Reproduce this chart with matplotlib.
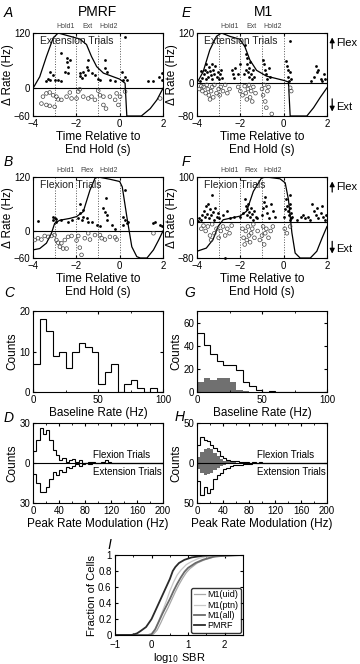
import numpy as np
import matplotlib
matplotlib.use('Agg')
import matplotlib.pyplot as plt
from matplotlib.ticker import AutoMinorLocator

plt.rcParams['font.family'] = ['Liberation Sans', 'DejaVu Sans']
plt.rcParams['axes.linewidth'] = 0.8
plt.rcParams['xtick.direction'] = 'in'
plt.rcParams['ytick.direction'] = 'in'
plt.rcParams['xtick.major.size'] = 2
plt.rcParams['ytick.major.size'] = 2
plt.rcParams['xtick.labelsize'] = 7
plt.rcParams['ytick.labelsize'] = 7

# ---------------- data ----------------
# position traces (scaled) for each trial panel
curveA_t = [-4, -3.69, -3.38, -3.07, -2.84, -2.38, -1.84, -1.53, -1.3, -1.06, -0.75, -0.29, 0, 0.25, 0.33, 1.0, 1.41, 1.72, 2]
curveA_v = [0, 25, 69, 109, 120, 114, 107, 95, 69, 47, 33, 25, 20, 11, -60, -60, -44, -25, 0]
curveE_t = [-4, -3.72, -3.41, -3.1, -2.87, -2.49, -2.02, -1.79, -1.56, -1.25, -0.79, -0.32, -0.01, 0.22, 0.3, 1.07, 1.38, 1.69, 2]
curveE_v = [0, 26, 79, 112, 120, 112, 105, 87, 55, 30, 16, 10, 6, 2, -80, -80, -60, -35, -12]
curveB_t = [-4, -3.69, -3.38, -3.15, -3.0, -2.76, -2.3, -1.99, -1.68, -1.37, -1.14, -0.99, -0.45, 0, 0.12, 0.33, 0.56, 0.79, 0.95, 1.26, 1.56, 1.8, 2]
curveB_v = [-42, -39, -27, -5, 17, 24, 28, 32, 43, 91, 117, 120, 115, 110, 98, 32, -35, -57, -60, -60, -42, -20, 0]
curveF_t = [-4, -3.57, -3.26, -3.03, -2.79, -2.02, -1.71, -1.4, -1.02, -0.79, -0.17, 0.07, 0.22, 0.38, 0.53, 0.76, 1.23, 1.53, 1.77, 2]
curveF_v = [-65, -58, -39, -10, 5, 13, 24, 68, 98, 100, 96, 87, 50, -24, -69, -80, -80, -65, -36, -10]

# rate changes of single cells: filled = increase, open = decrease
upA_t = [-2.69, -2.45, -2.45, -2.53, -3.23, -3.07, -3.3, -3.38, -3.2, -3.0, -2.84, -2.69, -2.38, -1.84, -1.84, -1.76,
         -1.68, -1.6, -1.53, -1.45, -1.45, -1.3, -1.14, -0.99, -0.9, -0.68, -0.68, -0.6, -0.45, -0.21, 0.1, 0.17,
         0.25, 0.25, 0.33, 1.33, 1.56, 1.8, 1.95, 1.95, -2.3, -2.38]
upA_v = [76, 65, 58, 36, 36, 29, 20, 15, 18, 18, 18, 15, 34, 33, 27, 22, 36, 29, 47, 62, 40, 34, 29, 20, 18, 62, 44,
         36, 18, 15, 36, 18, 25, 111, 18, 15, 15, 25, 33, 18, 62, 47]
dnA_t = [-3.61, -3.38, -3.23, -3.0, -3.54, -3.38, -3.23, -3.07, -2.92, -2.84, -2.69, -2.45, -2.3, -2.22, -1.99, -1.91,
         -1.84, -1.68, -1.45, -1.3, -1.14, -0.99, -0.91, -0.75, -0.75, -0.63, -0.45, -0.21, -0.14, -0.06, 0.02, 0.25, 1.87]
dnA_v = [-33, -36, -38, -40, -18, -11, -9, -15, -18, -24, -25, -18, -9, -22, -22, -7, -2, -18, -22, -18, -25, -5, -15,
         -18, -36, -44, -18, -25, -11, -36, -18, -7, -22]

upE_t = [-3.85, -3.75, -3.7, -3.65, -3.6, -3.55, -3.5, -3.45, -3.4, -3.35, -3.3, -3.25, -3.2, -3.15, -3.1, -3.05, -3.0,
         -2.95, -2.9, -3.8, -3.6, -3.3, -2.85, -2.4, -2.35, -2.3, -2.25, -2.0, -2.1, -1.8, -1.75, -1.7, -1.7, -1.65,
         -1.6, -1.6, -1.55, -1.5, -1.45, -1.4, -1.75, -1.35, -1.85, -0.95, -0.9, -0.85, -0.8, -0.75, -0.7, -0.65,
         0.1, 0.15, 0.2, 0.2, 0.25, 0.3, 0.3, 0.35, 1.25, 1.4, 1.5, 1.55, 1.6, 1.7, 1.75, 1.85, 1.9]
upE_v = [5, 12, 20, 32, 45, 25, 15, 38, 28, 18, 8, 30, 22, 40, 15, 25, 10, 20, 30, 28, 8, 45, 12, 30, 20, 12, 35, 45,
         20, 90, 70, 60, 45, 25, 15, 35, 50, 20, 10, 30, 30, 15, 20, 55, 45, 30, 20, 10, 35, 15, 52, 40, 30, 15, 5,
         100, 25, 10, 5, 15, 40, 25, 30, 10, 5, 20, 8]
dnE_t = [-3.9, -3.8, -3.75, -3.7, -3.6, -3.55, -3.5, -3.45, -3.4, -3.35, -3.3, -3.25, -3.2, -3.1, -3.0, -2.95, -2.9,
         -2.8, -2.7, -2.6, -2.5, -2.1, -2.0, -1.9, -1.8, -1.75, -1.7, -1.65, -1.6, -1.55, -1.5, -1.45, -1.4, -1.3,
         -1.0, -0.95, -0.9, -0.85, -0.8, -0.75, -0.7, -0.55, 0.3, 0.35]
dnE_v = [-15, -8, -20, -10, -25, -5, -15, -30, -40, -20, -10, -35, -5, -25, -15, -30, -10, -20, -5, -25, -15, -10,
         -20, -30, -8, -25, -40, -15, -5, -35, -20, -45, -10, -25, -15, -30, -5, -45, -60, -20, -10, -75, -12, -20]

upB_t = [-3.77, -3.07, -3.0, -2.92, -3.07, -2.92, -2.69, -2.38, -2.22, -1.84, -1.84, -1.91, -1.76, -1.68, -1.53,
         -1.45, -1.3, -1.68, -1.06, -0.9, -0.75, -0.68, -0.6, -0.63, -0.6, -0.37, -0.21, 0.25, 0.17, 0.25, 0.33,
         0.4, 0.17, 1.64, 1.87, 1.95, 1.56]
upB_v = [22, 24, 28, 26, 32, 21, 24, 21, 24, 61, 39, 28, 24, 32, 28, 21, 21, 47, 13, 10, 50, 43, 36, 73, 24, 13, 4,
         91, 32, 24, 17, 21, 13, 21, 13, 10, 17]
dnB_t = [-3.92, -3.77, -3.61, -3.46, -3.3, -3.15, -3.0, -2.92, -2.84, -2.76, -2.61, -2.53, -2.69, -2.45, -2.38, -2.22,
         -1.99, -1.91, -1.84, -1.76, -1.61, -1.45, -1.37, -1.14, -0.91, -0.83, -0.68, -0.45, -0.21, -0.14, 1.56]
dnB_v = [-20, -16, -19, -11, -13, -11, -9, -20, -26, -35, -39, -20, -27, -39, -13, -11, -21, -11, -37, -53, -16, -5,
         -19, -9, -9, -16, -19, -13, -14, -19, -5]

upF_t = [-3.95, -3.9, -3.8, -3.75, -3.7, -3.65, -3.6, -3.55, -3.5, -3.45, -3.4, -3.35, -3.3, -3.25, -3.2, -3.15, -3.1,
         -3.05, -3.0, -2.8, -2.6, -2.5, -2.3, -2.0, -1.9, -1.8, -1.75, -1.7, -1.7, -1.65, -1.6, -1.55, -1.5, -1.45,
         -1.4, -1.35, -1.3, -1.25, -1.0, -0.95, -0.9, -0.85, -0.8, -0.75, -0.7, -0.6, -0.5, -0.4, 0.0, 0.1, 0.15,
         0.2, 0.25, 0.3, 0.3, 0.3, 0.3, 0.35, 0.35, 0.4, 0.05, 0.6, 0.8, 1.0, 1.1, 1.3, 1.4, 1.5, 1.55, 1.6, 1.7,
         1.75, 1.8, 1.9, 1.95, 0.9, 1.2, -2.72]
upF_v = [3, 8, 5, 15, 25, 10, 35, 18, 40, 8, 28, 15, 60, 22, 5, 30, 12, 20, 8, 15, 25, 8, 12, 10, 20, 50, 35, 28, 15,
         40, 22, 10, 30, 18, 5, 25, 12, 8, 15, 30, 45, 55, 35, 20, 8, 40, 25, 10, 10, 50, 35, 25, 15, 5, 60, 40, 30,
         20, 8, 12, 28, 5, 10, 8, 12, 40, 25, 15, 30, 8, 20, 35, 12, 5, 15, 15, 5, -80]
dnF_t = [-3.8, -3.7, -3.6, -3.5, -3.4, -3.3, -3.2, -3.1, -3.0, -2.9, -2.8, -2.7, -2.6, -2.5, -2.4, -3.35, -1.9,
         -1.85, -1.8, -1.75, -1.7, -1.65, -1.6, -1.55, -1.5, -1.45, -1.4, -1.35, -1.2, -1.1, -1.0, -0.95, -0.9,
         -0.85, -0.8, -0.7, -0.6, -0.5, 0.05, 0.15, 0.3]
dnF_v = [-15, -8, -20, -10, -30, -5, -25, -15, -35, -20, -10, -30, -15, -25, -8, -40, -15, -35, -50, -20, -40, -10,
         -30, -45, -25, -15, -5, -35, -20, -40, -30, -10, -50, -25, -15, -35, -20, -10, -15, -25, -10]

# baseline rate histograms (5 Hz bins)
base_edges = np.arange(0, 105, 5)
base_pmrf = [7, 18, 15, 9, 10, 6, 10, 12, 11, 10, 2, 5, 7, 0, 2, 3, 1, 0, 1, 0]
base_m1 = [51, 41, 33, 27, 23, 23, 19, 9, 5, 2, 0, 1, 0, 0, 0, 0, 0, 0, 0, 0]
base_m1_sub = [9, 12, 10, 12, 12, 9, 2, 1, 0, 0, 0, 1, 0, 0, 0, 0, 0, 0, 0, 0]

# peak rate modulation histograms (5 Hz bins, 0-200 Hz)
mod_edges = np.arange(0, 205, 5)
pmrf_flex = [9, 17, 26, 22, 25, 17, 10, 6, 2, 4, 1, 2, 3, 1, 2, 0, 0, 1, 1, 0, 0, 1, 2, 1] + [0] * 16
pmrf_ext = [8, 15, 22, 22, 18, 12, 7, 9, 5, 7, 3, 4, 2, 1, 2, 1, 0, 1, 0, 0] + [0] * 20
m1_flex = [23, 32, 29, 27, 23, 19, 15, 9, 6, 4, 3, 2, 2, 1, 1, 1, 0, 1, 0, 1] + [0] * 20
m1_ext = [22, 40, 30, 38, 32, 20, 15, 12, 8, 6, 4, 3, 2, 2, 1, 1, 1, 0, 0, 0] + [0] * 20
m1_flex_sub = [8, 14, 17, 19, 17, 13, 9, 5, 3, 2, 1, 1] + [0] * 28
m1_ext_sub = [8, 12, 15, 14, 12, 9, 6, 4, 2, 1, 1, 0] + [0] * 28

# cumulative distributions of log10 SBR
cdf_labels = ['M1(uid)', 'M1(ptn)', 'M1(all)', 'PMRF']
cdf_colors = ['#a8a8a8', '#c8c8c8', '#6a6a6a', '#2a2a2a']
cdf_x = [
    [-1, -0.05, 0.05, 0.15, 0.25, 0.35, 0.45, 0.55, 0.65, 0.75, 0.85, 0.95, 1.05, 1.25, 1.45, 1.75, 2.05, 2.5],
    [-1, -0.1, 0.0, 0.1, 0.2, 0.3, 0.4, 0.5, 0.6, 0.7, 0.8, 0.95, 1.1, 1.3, 1.5, 1.8, 2.1, 2.5],
    [-1, -0.1, 0.0, 0.1, 0.2, 0.3, 0.4, 0.5, 0.6, 0.7, 0.8, 0.9, 1.0, 1.2, 1.4, 1.7, 2.0, 2.5],
    [-1, -0.55, -0.4, -0.3, -0.15, 0.0, 0.1, 0.2, 0.3, 0.4, 0.5, 0.58, 0.65, 0.75, 0.9, 1.1, 1.4, 1.7, 2.5],
]
cdf_y = [
    [0, 0, 0.01, 0.06, 0.15, 0.25, 0.34, 0.44, 0.54, 0.63, 0.71, 0.78, 0.83, 0.9, 0.94, 0.98, 0.99, 1],
    [0, 0, 0.01, 0.08, 0.18, 0.3, 0.42, 0.55, 0.66, 0.75, 0.81, 0.88, 0.92, 0.96, 0.98, 0.99, 1, 1],
    [0, 0, 0.01, 0.07, 0.17, 0.27, 0.36, 0.45, 0.55, 0.64, 0.72, 0.79, 0.84, 0.9, 0.94, 0.98, 0.99, 1],
    [0, 0, 0.02, 0.05, 0.1, 0.2, 0.3, 0.4, 0.5, 0.6, 0.7, 0.8, 0.85, 0.9, 0.94, 0.97, 0.99, 1, 1],
]

# ---------------- figure ----------------
W, H = 360, 664
fig = plt.figure(figsize=(3.6, 6.64), dpi=100)


def add_ax(l, top, w, h):
    return fig.add_axes([l / W, 1 - (top + h) / H, w / W, h / H])


def trial_panel(ax, ct, cv, ut, uv, dt, dv, ylim, yticks, title, mid):
    ax.plot(ct, cv, color='k', lw=0.9, zorder=3)
    ax.scatter(ut, uv, s=4, color='k', lw=0, zorder=4, clip_on=False)
    ax.scatter(dt, dv, s=7, facecolors='none', edgecolors='#444444', lw=0.5, zorder=4)
    for xv in [-3, -2, -1, 0]:
        ax.axvline(xv, color='#555555', ls=':', lw=0.7)
    ax.axhline(0, color='k', lw=0.8)
    ax.set_xlim(-4, 2)
    ax.set_ylim(*ylim)
    ax.set_xticks([-4, -2, 0, 2])
    ax.set_yticks(yticks)
    ax.tick_params(top=True, right=True)
    ax.tick_params(axis='x', pad=2.5)
    ax.tick_params(axis='y', pad=2)
    ax.text(0.05, 0.9, title, transform=ax.transAxes, fontsize=7.5, va='center', color='#222222')
    trans = ax.get_xaxis_transform()
    for xv, lab in zip([-2.5, -1.5, -0.5], ['Hold1', mid, 'Hold2']):
        ax.text(xv, 1.04, lab, transform=trans, fontsize=5, ha='center', va='bottom', color='#444444')
    ax.set_xlabel('Time Relative to\nEnd Hold (s)', fontsize=8.5, labelpad=1, linespacing=1.1)
    ax.set_ylabel('Δ Rate (Hz)', fontsize=8.5, labelpad=0)


def flex_ext_arrows(ax):
    ax.annotate('', xy=(1.04, 0.98), xytext=(1.04, 0.78), xycoords='axes fraction',
                arrowprops=dict(arrowstyle='-|>', color='k', lw=0.9, mutation_scale=7))
    ax.text(1.07, 0.88, 'Flex', transform=ax.transAxes, fontsize=8, va='center')
    ax.annotate('', xy=(1.04, 0.02), xytext=(1.04, 0.24), xycoords='axes fraction',
                arrowprops=dict(arrowstyle='-|>', color='k', lw=0.9, mutation_scale=7))
    ax.text(1.07, 0.11, 'Ext', transform=ax.transAxes, fontsize=8, va='center')


axA = add_ax(33, 33, 130, 83)
trial_panel(axA, curveA_t, curveA_v, upA_t, upA_v, dnA_t, dnA_v, (-60, 120), [-60, 0, 120],
            'Extension Trials', 'Ext')
axE = add_ax(197, 33, 130, 83)
trial_panel(axE, curveE_t, curveE_v, upE_t, upE_v, dnE_t, dnE_v, (-80, 120), [-80, 0, 120],
            'Extension Trials', 'Ext')
flex_ext_arrows(axE)
axB = add_ax(33, 177, 130, 81)
trial_panel(axB, curveB_t, curveB_v, upB_t, upB_v, dnB_t, dnB_v, (-60, 120), [-60, 0, 120],
            'Flexion Trials', 'Flex')
axF = add_ax(197, 177, 130, 81)
trial_panel(axF, curveF_t, curveF_v, upF_t, upF_v, dnF_t, dnF_v, (-80, 100), [-80, 0, 100],
            'Flexion Trials', 'Flex')
flex_ext_arrows(axF)


def hist_style(ax):
    ax.tick_params(top=True, right=True)
    ax.tick_params(axis='x', pad=2.5)
    ax.tick_params(axis='y', pad=2)
    ax.tick_params(which='minor', top=True, right=True, length=1.2)
    ax.xaxis.set_minor_locator(AutoMinorLocator(2))


axC = add_ax(33, 311, 130, 81)
axC.stairs(base_pmrf, base_edges, color='k', lw=0.8, baseline=0)
axC.set_xlim(0, 100)
axC.set_ylim(0, 20)
axC.set_xticks([0, 50, 100])
axC.set_yticks([0, 10, 20])
hist_style(axC)
axC.set_xlabel('Baseline Rate (Hz)', fontsize=8.5, labelpad=1)
axC.set_ylabel('Counts', fontsize=8.5, labelpad=1)

axG = add_ax(197, 311, 130, 81)
axG.stairs(base_m1_sub, base_edges, fill=True, color='#707070', baseline=0)
axG.stairs(base_m1, base_edges, color='k', lw=0.8, baseline=0)
axG.set_xlim(0, 100)
axG.set_ylim(0, 70)
axG.set_xticks([0, 50, 100])
axG.set_yticks([0, 20, 40, 60])
hist_style(axG)
axG.set_xlabel('Baseline Rate (Hz)', fontsize=8.5, labelpad=1)
axG.set_ylabel('Counts', fontsize=8.5, labelpad=1)


def mod_panel(ax, flex, ext, lim, flex_sub=None, ext_sub=None):
    if flex_sub is not None:
        ax.stairs(flex_sub, mod_edges, fill=True, color='#707070', baseline=0)
        ax.stairs(-np.array(ext_sub), mod_edges, fill=True, color='#707070', baseline=0)
    ax.stairs(flex, mod_edges, color='k', lw=0.8, baseline=0)
    ax.stairs(-np.array(ext), mod_edges, color='k', lw=0.8, baseline=0)
    ax.axhline(0, color='k', lw=0.8)
    ax.set_xlim(0, 200)
    ax.set_ylim(-lim, lim)
    ax.set_xticks([0, 40, 80, 120, 160, 200])
    ax.set_yticks([-lim, 0, lim])
    ax.set_yticklabels([str(lim), '0', str(lim)])
    hist_style(ax)
    ax.text(0.46, 0.6, 'Flexion Trials', transform=ax.transAxes, fontsize=7, va='center')
    ax.text(0.46, 0.39, 'Extension Trials', transform=ax.transAxes, fontsize=7, va='center')
    ax.set_xlabel('Peak Rate Modulation (Hz)', fontsize=8.5, labelpad=1)
    ax.set_ylabel('Counts', fontsize=8.5, labelpad=1)


axD = add_ax(33, 423, 130, 80)
mod_panel(axD, pmrf_flex, pmrf_ext, 30)
axH = add_ax(197, 423, 130, 80)
mod_panel(axH, m1_flex, m1_ext, 50, m1_flex_sub, m1_ext_sub)

axI = add_ax(115, 555, 128, 80)
for xs, ys, lab, col in zip(cdf_x, cdf_y, cdf_labels, cdf_colors):
    lw = 1.3 if lab in ('M1(all)', 'PMRF') else 0.9
    axI.plot(xs, ys, color=col, lw=lw, label=lab)
axI.set_xlim(-1, 2.5)
axI.set_ylim(0, 1)
axI.set_xticks([-1, 0, 1, 2])
axI.set_yticks([0, 0.2, 0.4, 0.6, 0.8, 1])
axI.set_yticklabels(['0', '0.2', '0.4', '0.6', '0.8', '1'])
hist_style(axI)
axI.tick_params(axis='x', pad=3.5)
axI.tick_params(axis='y', pad=2.5)
axI.set_xlabel('log$_{10}$ SBR', fontsize=8, labelpad=0.5)
axI.set_ylabel('Fraction of Cells', fontsize=8, labelpad=1)
axI.legend(loc='lower right', fontsize=6.5, frameon=True, fancybox=True, edgecolor='k',
           handlelength=1.2, handletextpad=0.3, borderpad=0.3, labelspacing=0.15, borderaxespad=0.2)

# titles and panel letters
fig.text(98 / W, 1 - 12 / H, 'PMRF', fontsize=10, ha='center', va='center')
fig.text(263 / W, 1 - 12 / H, 'M1', fontsize=10, ha='center', va='center')
letters = [('A', 4, 13), ('E', 182, 13), ('B', 4, 162), ('F', 182, 162), ('C', 4, 293), ('G', 184, 293),
           ('D', 4, 418), ('H', 175, 417), ('I', 107, 545)]
for lab, px, py in letters:
    fig.text(px / W, 1 - py / H, lab, fontsize=10, style='italic', ha='left', va='center')

fig.savefig('out.png', dpi=100)
